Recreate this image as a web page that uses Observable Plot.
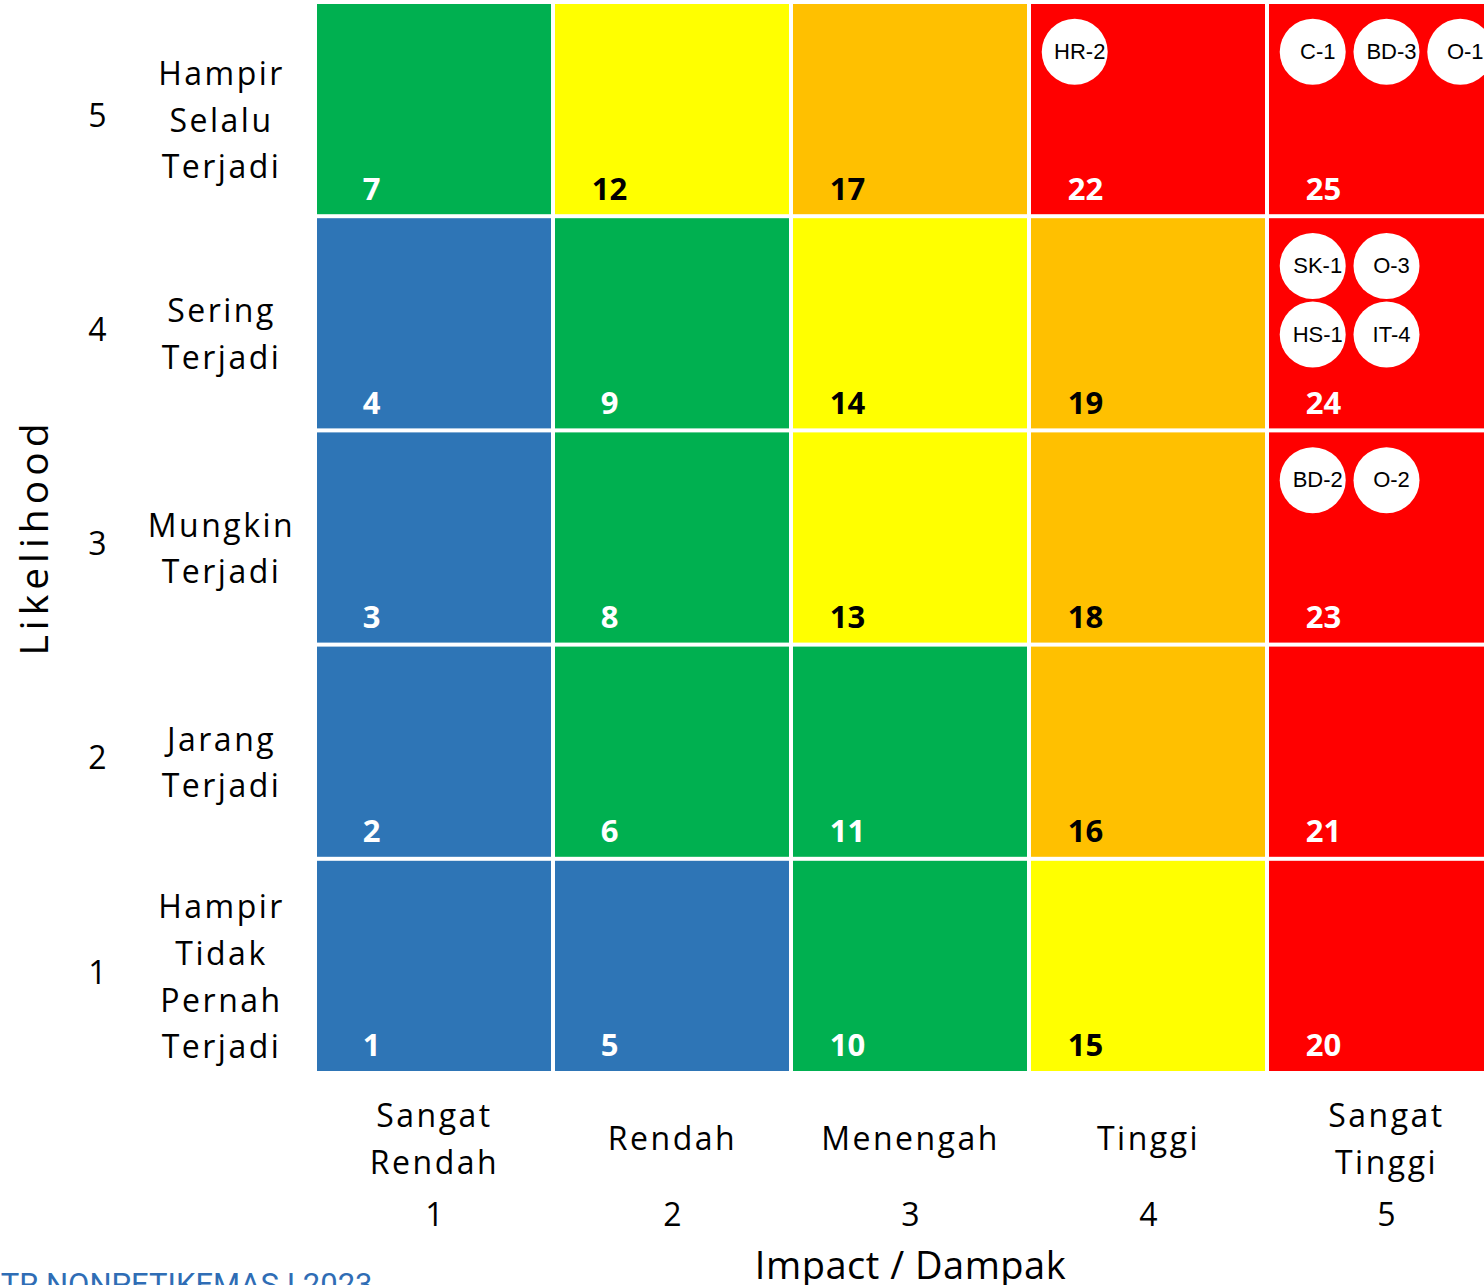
<!DOCTYPE html>
<html>
<head>
<meta charset="utf-8">
<script src="https://cdn.jsdelivr.net/npm/d3@7"></script>
<script src="https://cdn.jsdelivr.net/npm/@observablehq/plot@0.6"></script>
<style>
  html, body { margin: 0; padding: 0; background: white; overflow: hidden; }
  svg { overflow: hidden; display: block; }
  .row-labels text, .row-labels tspan { letter-spacing: 2.5px; }
  .col-labels text, .col-labels tspan { letter-spacing: 2.5px; }
  .y-title text { letter-spacing: 5px; }
  .x-title text { letter-spacing: 0.5px; }
</style>
</head>
<body>
<div id="chart"></div>
<script>
// ---- data ----
const impacts = [1, 2, 3, 4, 5];
const impactLabels = ["Sangat\nRendah", "Rendah", "Menengah", "Tinggi", "Sangat\nTinggi"];
const likelihoods = [1, 2, 3, 4, 5];
const likelihoodLabels = ["Hampir\nTidak\nPernah\nTerjadi", "Jarang\nTerjadi", "Mungkin\nTerjadi", "Sering\nTerjadi", "Hampir\nSelalu\nTerjadi"];
// risk score per likelihood row, impact 1..5
const scoresL1 = [1, 5, 10, 15, 20];
const scoresL2 = [2, 6, 11, 16, 21];
const scoresL3 = [3, 8, 13, 18, 23];
const scoresL4 = [4, 9, 14, 19, 24];
const scoresL5 = [7, 12, 17, 22, 25];
const levelThresholds = [6, 12, 16, 20];
const levelColors = ["#2E75B6", "#00B050", "#FFFF00", "#FFC000", "#FF0000"];
// risk register entries placed in the matrix
const riskCodes = ["HR-2", "C-1", "BD-3", "O-1", "SK-1", "O-3", "HS-1", "IT-4", "BD-2", "O-2"];
const riskImpact = [4, 5, 5, 5, 5, 5, 5, 5, 5, 5];
const riskLikelihood = [5, 5, 5, 5, 4, 4, 4, 4, 3, 3];
const riskSlotCol = [0, 0, 1, 2, 0, 1, 0, 1, 0, 1];
const riskSlotRow = [0, 0, 0, 0, 0, 0, 1, 1, 0, 0];
const xTitle = "Impact / Dampak";
const yTitle = "Likelihood";
const footer = "TR NONPETIKEMAS I 2023";

// ---- build tables ----
const scoreRows = [scoresL1, scoresL2, scoresL3, scoresL4, scoresL5];
const cells = [];
likelihoods.forEach((l, i) => impacts.forEach((m, j) => cells.push({likelihood: l, impact: m, score: scoreRows[i][j]})));
const risks = riskCodes.map((code, i) => ({code, impact: riskImpact[i], likelihood: riskLikelihood[i], col: riskSlotCol[i], row: riskSlotRow[i]}));
const xLab = impacts.map((v, i) => ({impact: v, label: impactLabels[i]}));
const yLab = likelihoods.map((v, i) => ({likelihood: v, label: likelihoodLabels[i]}));
const darkText = s => s >= 12 && s < 20;
const rx = d => d.impact - 0.5 + 0.19 + d.col * 0.31;
const ry = d => d.likelihood + 0.5 - (0.23 + d.row * 0.32);
const labelFont = "'Open Sans', sans-serif";

const chart = Plot.plot({
  width: 1484,
  height: 1285,
  margin: 0,
  x: {type: "linear", domain: [0.5, 5.5], range: [315, 1505], axis: null},
  y: {type: "linear", domain: [0.5, 5.5], range: [1073, 2], axis: null},
  color: {type: "threshold", domain: levelThresholds, range: levelColors},
  style: {fontFamily: labelFont, background: "white"},
  marks: [
    Plot.rect(cells, {x1: d => d.impact - 0.5, x2: d => d.impact + 0.5, y1: d => d.likelihood - 0.5, y2: d => d.likelihood + 0.5, fill: "score", inset: 2}),
    Plot.text(cells, {x: d => d.impact - 0.5, y: d => d.likelihood - 0.5, text: d => String(d.score), dx: 56, dy: -27, fill: d => darkText(d.score) ? "black" : "white", fontSize: 31, fontWeight: 700, fontFamily: labelFont}),
    Plot.dot(risks, {x: rx, y: ry, r: 33, fill: "white", stroke: null}),
    Plot.text(risks, {x: rx, y: ry, text: "code", dx: 5, fontSize: 22, fill: "black", fontFamily: "'Liberation Sans', Arial, sans-serif"}),
    Plot.text(yLab, {className: "row-ticks", y: "likelihood", text: d => String(d.likelihood), frameAnchor: "left", textAnchor: "middle", lineAnchor: "middle", dx: 97, dy: 7, fontSize: 32, fill: "black"}),
    Plot.text(yLab, {className: "row-labels", y: "likelihood", text: "label", frameAnchor: "left", textAnchor: "middle", lineAnchor: "middle", dx: 221, dy: 7, fontSize: 32, lineHeight: 1.46, fill: "black"}),
    Plot.text(xLab, {className: "col-labels", x: "impact", text: "label", frameAnchor: "bottom", lineAnchor: "middle", dy: -150, fontSize: 32, lineHeight: 1.46, fill: "black"}),
    Plot.text(xLab, {className: "col-ticks", x: "impact", text: d => String(d.impact), frameAnchor: "bottom", lineAnchor: "middle", dy: -70, fontSize: 32, fill: "black"}),
    Plot.text([yTitle], {className: "y-title", y: 3, text: d => d, frameAnchor: "left", textAnchor: "middle", lineAnchor: "middle", dx: 35, dy: -1, rotate: -90, fontSize: 39, fontWeight: 500, fill: "black"}),
    Plot.text([xTitle], {className: "x-title", x: 3, text: d => d, frameAnchor: "bottom", lineAnchor: "middle", dy: -19, fontSize: 38, fontWeight: 500, fill: "black"}),
    Plot.text([footer], {frameAnchor: "bottom-left", text: d => d, textAnchor: "end", lineAnchor: "middle", dx: 372, dy: 0, fontSize: 31, fill: "#2F6DB5", fontFamily: "Roboto, sans-serif"})
  ]
});
document.getElementById("chart").appendChild(chart);
</script>
</body>
</html>
